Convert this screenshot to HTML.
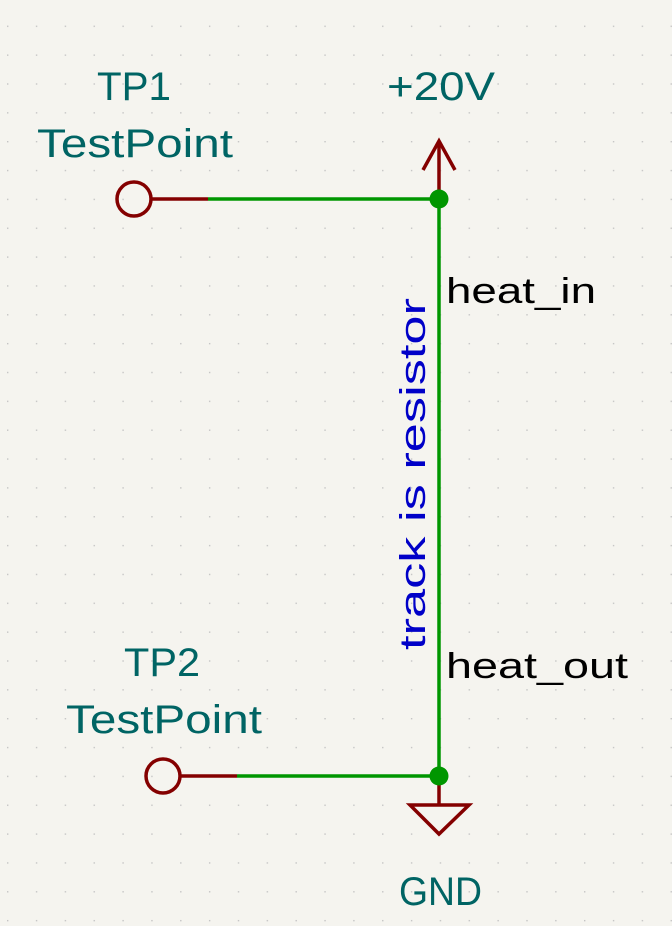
<!DOCTYPE html>
<html><head><style>html,body{margin:0;padding:0;background:#f5f4ef;}</style></head>
<body>
<svg width="672" height="926" xmlns="http://www.w3.org/2000/svg" style="display:block">
<defs>
<pattern id="g" x="7" y="25.6" width="28.85" height="28.85" patternUnits="userSpaceOnUse">
<rect x="-1" y="-1" width="2.4" height="2.4" fill="#c4c4c4"/>
</pattern>
</defs>
<rect width="672" height="926" fill="#f5f4ef"/>
<rect x="5" y="24" width="672" height="926" fill="url(#g)"/>
<g font-family="Liberation Sans, DejaVu Sans, sans-serif" font-size="40">
<text x="97" y="100" fill="#006464" textLength="74" lengthAdjust="spacingAndGlyphs">TP1</text>
<text x="37" y="157" fill="#006464" textLength="196" lengthAdjust="spacingAndGlyphs">TestPoint</text>
<text x="387" y="100" fill="#006464" textLength="108" lengthAdjust="spacingAndGlyphs">+20V</text>
<text x="124" y="676" fill="#006464" textLength="76" lengthAdjust="spacingAndGlyphs">TP2</text>
<text x="66" y="733" fill="#006464" textLength="196" lengthAdjust="spacingAndGlyphs">TestPoint</text>
<text x="399" y="905" fill="#006464" textLength="83" lengthAdjust="spacingAndGlyphs">GND</text>
<text x="446" y="303" fill="#000" font-size="36" textLength="150" lengthAdjust="spacingAndGlyphs">heat_in</text>
<text x="446" y="678" fill="#000" font-size="36" textLength="182" lengthAdjust="spacingAndGlyphs">heat_out</text>
<text transform="translate(425,650) rotate(-90)" x="0" y="0" fill="#0000c8" font-size="36" textLength="352" lengthAdjust="spacingAndGlyphs">track is resistor</text>
</g>
<g fill="none" stroke-width="3.5">
<line x1="208" y1="199" x2="439" y2="199" stroke="#009600"/>
<line x1="237" y1="776" x2="439" y2="776" stroke="#009600"/>
<line x1="439" y1="199" x2="439" y2="776" stroke="#009600"/>
<line x1="151" y1="199" x2="208" y2="199" stroke="#840000"/>
<line x1="180" y1="776" x2="237" y2="776" stroke="#840000"/>
<circle cx="134" cy="199" r="17" stroke="#840000"/>
<circle cx="163" cy="776" r="17" stroke="#840000"/>
<line x1="439" y1="199" x2="439" y2="141" stroke="#840000"/>
<polyline points="423,170 439,141 455,170" stroke="#840000"/>
<line x1="439" y1="776" x2="439" y2="805" stroke="#840000"/>
<polygon points="410,805 469,805 439,834" stroke="#840000"/>
</g>
<circle cx="439" cy="199" r="9.5" fill="#009600"/>
<circle cx="439" cy="776" r="9.5" fill="#009600"/>
</svg>
</body></html>
